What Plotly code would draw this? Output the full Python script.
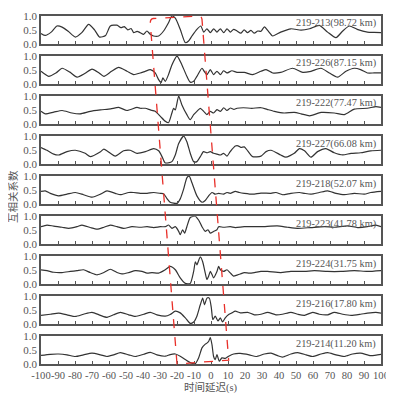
import plotly.graph_objects as go
from plotly.subplots import make_subplots

# === Station pair labels (top to bottom) ===
pair_labels = ["219-213(98.72 km)", "219-226(87.15 km)", "219-222(77.47 km)",
               "219-227(66.08 km)", "219-218(52.07 km)", "219-223(41.78 km)",
               "219-224(31.75 km)", "219-216(17.80 km)", "219-214(11.20 km)"]

x_tick_vals = list(range(-100, 101, 10))
x_tick_text = ["-100", "-90", "-80", "-70", "-60", "-50", "-40", "-30", "-20", "-10",
               "0", "10", "20", "30", "40", "50", "60", "70", "80", "90", "100"]

# === Cross-correlation curves (lag in s, coefficient) ===
lag_213 = [-100, -97.5, -94, -90.6, -87.6, -84, -79.8, -76, -72, -68.5, -65.5, -62, -59.2, -55.3,
           -53, -51, -49, -47, -45.5, -43.5, -41.6, -39.6, -37.7, -35.7, -33.8, -30.8, -27.9, -25,
           -23, -21, -18.1, -15.1, -13.2, -11.2, -8.3, -6, -4.3, -2.4, -0.4, 1.6, 3.5, 5.5, 7.5,
           9.4, 11.4, 13.3, 15.3, 17.5, 19.5, 21.5, 23.5, 25.5, 27.5, 29.4, 31.4, 33.8, 36.3, 41,
           47, 53, 58, 63.7, 68.6, 73.5, 77.5, 81.4, 86, 92, 96, 100]
cc_213 = [0.37, 0.30, 0.42, 0.64, 0.60, 0.45, 0.24, 0.40, 0.70, 0.50, 0.24, 0.30, 0.64, 0.67,
          0.58, 0.62, 0.50, 0.55, 0.40, 0.45, 0.40, 0.34, 0.46, 0.34, 0.28, 0.28, 0.46, 0.76,
          1.0, 0.92, 0.52, 0.04, 0.10, 0.28, 0.52, 0.64, 0.42, 0.54, 0.40, 0.54, 0.42, 0.54, 0.40,
          0.54, 0.42, 0.52, 0.46, 0.38, 0.50, 0.40, 0.48, 0.38, 0.46, 0.45, 0.61, 0.45, 0.28, 0.42,
          0.54, 0.49, 0.54, 0.66, 0.42, 0.22, 0.46, 0.64, 0.52, 0.42, 0.41, 0.40]

lag_226 = [-100, -95.5, -91, -87.6, -83, -78.8, -74, -70, -66, -63, -58.5, -54.3, -49.4, -45.5,
           -41.6, -38.7, -35.7, -32.8, -30.8, -29.4, -28.3, -26.9, -25, -23, -20, -17.1, -14.2,
           -12.2, -10.2, -8.3, -5.3, -4, -2.4, -0.4, 1.5, 3.5, 5.5, 7.4, 9.4, 12.3, 15.3, 19.6,
           24.5, 29.4, 32.4, 36.3, 41, 48, 54, 58.8, 64.7, 69.6, 74.5, 79.4, 84.3, 88, 92, 96, 100]
cc_226 = [0.45, 0.27, 0.40, 0.56, 0.42, 0.24, 0.38, 0.53, 0.40, 0.27, 0.45, 0.59, 0.45, 0.33,
          0.39, 0.45, 0.51, 0.39, 0.15, 0.04, 0.21, 0.09, 0.33, 0.68, 1.0, 0.68, 0.27,
          0.06, 0.09, 0.27, 0.56, 0.45, 0.33, 0.51, 0.33, 0.45, 0.33, 0.47, 0.39, 0.47, 0.41, 0.41,
          0.33, 0.45, 0.51, 0.39, 0.41, 0.56, 0.41, 0.45, 0.56, 0.39, 0.24, 0.45, 0.56, 0.51, 0.39,
          0.39, 0.39]

lag_222 = [-100, -97.5, -92.5, -87.6, -81.8, -77, -71, -65, -59, -54.3, -49.4, -43.5, -41.6,
           -38.7, -35.7, -32.8, -29.8, -26.9, -25, -23, -22, -21, -19, -17.1, -14.2, -12.2, -10.2,
           -8.3, -6.3, -4.3, -2.4, -0.4, 1.5, 3.5, 5.5, 7.5, 9.4, 11.4, 13.5, 15.3, 19, 24, 29.4,
           33, 37.3, 43, 49, 53, 58, 64.7, 72.5, 78.4, 84.3, 92, 97, 100]
cc_222 = [0.45, 0.36, 0.42, 0.48, 0.39, 0.36, 0.45, 0.50, 0.54, 0.59, 0.48, 0.59, 0.56,
          0.56, 0.50, 0.45, 0.27, 0.09, 0.04, 0.39, 0.56, 0.50, 1.0, 0.68, 0.33, 0.15, 0.33,
          0.45, 0.56, 0.45, 0.33, 0.45, 0.39, 0.51, 0.45, 0.58, 0.48, 0.57, 0.52, 0.56, 0.58, 0.56,
          0.58, 0.52, 0.45, 0.39, 0.41, 0.36, 0.29, 0.41, 0.39, 0.33, 0.53, 0.56, 0.62, 0.59]

lag_227 = [-100, -96.5, -92.5, -89.6, -84.7, -79.8, -74, -71, -65, -63, -59.2, -56.3, -51.4,
           -47.5, -43.5, -38.6, -33.7, -30.8, -28.8, -26.9, -23, -21, -19, -16.1, -14.2, -12.2,
           -10.2, -8.3, -6.3, -4.4, -2.4, -0.4, 1.5, 3.5, 5.5, 7.4, 9.4, 11.3, 14.3, 15.9, 17.6,
           19.6, 21.6, 24.5, 29.4, 32.4, 35.3, 41, 44, 49, 52, 55, 58.8, 62.7, 67.6, 72.5, 77.5,
           82.4, 88, 94, 100]
cc_227 = [0.59, 0.49, 0.35, 0.32, 0.44, 0.49, 0.38, 0.26, 0.44, 0.53, 0.38, 0.28, 0.47,
          0.49, 0.38, 0.44, 0.55, 0.47, 0.26, 0.03, 0.08, 0.32, 0.73, 1.0, 0.80, 0.38,
          0.08, 0.08, 0.26, 0.44, 0.40, 0.44, 0.38, 0.35, 0.32, 0.38, 0.28, 0.44, 0.64, 0.65, 0.59,
          0.61, 0.47, 0.26, 0.28, 0.44, 0.49, 0.32, 0.24, 0.38, 0.55, 0.47, 0.24, 0.44, 0.55, 0.40,
          0.32, 0.38, 0.40, 0.47, 0.49]

lag_218 = [-100, -97.5, -94.5, -89.6, -84.7, -79.8, -75, -70, -65, -61.2, -56.3, -53.3, -48.4,
           -45.5, -41.6, -37.6, -33.7, -29.8, -27.8, -26, -24, -20, -18.1, -16.1, -14.2, -12.8,
           -11.2, -8.3, -5.3, -3.4, -1.4, 0.6, 2.5, 4.5, 7.4, 9.4, 11.3, 14.3, 16.7, 19.6, 24.5,
           29.4, 35.3, 38.2, 42, 47, 52, 55, 58.8, 63.7, 68.6, 73.5, 78.4, 84.3, 90.2, 94, 100]
cc_218 = [0.45, 0.47, 0.38, 0.29, 0.35, 0.41, 0.33, 0.24, 0.35, 0.47, 0.38, 0.33, 0.41,
          0.41, 0.38, 0.38, 0.41, 0.38, 0.36, 0.20, 0.06, 0.02, 0.18, 0.53, 0.94, 1.0,
          0.76, 0.29, 0.06, 0.12, 0.29, 0.41, 0.35, 0.38, 0.35, 0.41, 0.38, 0.45, 0.41, 0.38, 0.35,
          0.39, 0.38, 0.41, 0.33, 0.38, 0.41, 0.38, 0.35, 0.41, 0.47, 0.38, 0.33, 0.38, 0.35, 0.41,
          0.45]

lag_223 = [-100, -96.5, -92.5, -87.6, -83.7, -78.8, -75.9, -71, -67, -63, -59.2, -55.3, -51.4,
           -46.5, -41.6, -37.6, -33.7, -29.8, -26.9, -25, -23, -21, -19, -18.1, -16.7, -15.5,
           -14.2, -12.2, -9.3, -7.3, -5.3, -3.4, -1.8, -0.4, 1.5, 3.5, 4.5, 7.4, 11.3, 14.3, 19.6,
           29.4, 39, 45, 51, 58.8, 66.7, 72.5, 80.4, 86.3, 92, 97, 100]
cc_223 = [0.62, 0.68, 0.64, 0.60, 0.56, 0.62, 0.68, 0.59, 0.53, 0.60, 0.68, 0.62, 0.56,
          0.62, 0.60, 0.62, 0.59, 0.62, 0.62, 0.68, 0.56, 0.62, 0.45, 0.33, 0.51, 0.39,
          0.62, 0.95, 1.0, 0.86, 0.62, 0.45, 0.51, 0.39, 0.45, 0.51, 0.62, 0.60, 0.62, 0.59, 0.62,
          0.62, 0.65, 0.60, 0.56, 0.59, 0.62, 0.60, 0.65, 0.59, 0.62, 0.68, 0.62]

lag_224 = [-100, -96.5, -92.5, -87.6, -82.7, -78.8, -75, -71, -67, -63, -59.2, -55.3, -52.4,
           -48.4, -44.5, -40.6, -37.6, -34.7, -30.8, -26.9, -24, -21, -18.1, -15.1, -12.2, -10.2,
           -9.2, -8.3, -6.3, -4.9, -3.4, -2.4, -1.4, -0.4, 0.6, 1.5, 3.5, 4.5, 5.5, 7.4, 9.4, 11.3,
           13.3, 15.3, 17.2, 19.6, 22.5, 25.5, 29.4, 33.3, 41, 47, 55, 60.8, 68.6, 76.5, 84.3,
           92, 100]
cc_224 = [0.51, 0.48, 0.42, 0.41, 0.45, 0.48, 0.51, 0.41, 0.33, 0.41, 0.53, 0.41, 0.36,
          0.41, 0.48, 0.45, 0.39, 0.41, 0.39, 0.51, 0.63, 0.51, 0.22, 0.02, 0.02, 0.45,
          0.80, 0.69, 0.98, 0.80, 0.40, 0.16, 0.28, 0.45, 0.34, 0.22, 0.45, 0.63, 0.51, 0.45, 0.51,
          0.40, 0.28, 0.32, 0.36, 0.41, 0.39, 0.41, 0.45, 0.45, 0.41, 0.45, 0.45, 0.48, 0.45, 0.45,
          0.48, 0.45, 0.48]

lag_216 = [-100, -94.5, -89.6, -84.7, -79.8, -75, -70, -65, -61.2, -57.3, -53.3, -48.4, -44.5,
           -39.6, -35.7, -31.8, -26.9, -24, -21, -18.1, -15.1, -12.2, -10.2, -8.3, -6.3, -4.9,
           -3.8, -2.4, -1, 0.2, 1.1, 2.5, 4.1, 5.5, 6.8, 8.4, 10.4, 12.3, 14.3, 17.2, 21.6, 25.5,
           29.4, 33.3, 38.2, 42, 47, 51, 55, 59.8, 63.7, 68.6, 72.5, 77.5, 82.4, 88, 92, 97, 100]
cc_216 = [0.31, 0.35, 0.39, 0.33, 0.27, 0.35, 0.42, 0.31, 0.24, 0.33, 0.42, 0.33, 0.27,
          0.35, 0.42, 0.33, 0.28, 0.34, 0.46, 0.40, 0.22, 0.02, 0.07, 0.28, 0.69, 0.93,
          0.69, 0.93, 0.93, 0.58, 0.16, 0.28, 0.11, 0.22, 0.07, 0.22, 0.34, 0.40, 0.46, 0.40, 0.42,
          0.33, 0.35, 0.42, 0.33, 0.35, 0.42, 0.35, 0.31, 0.42, 0.35, 0.33, 0.42, 0.35, 0.31, 0.35,
          0.39, 0.42, 0.39]

lag_214 = [-100, -94.5, -89.6, -84.7, -79.8, -75, -70, -65, -61.2, -57.3, -53.3, -48.4, -44.5,
           -39.6, -35.7, -31.8, -26.9, -24, -21, -18.1, -15.1, -12.2, -9.3, -7.3, -5.3, -3.8,
           -2.4, -1.4, -0.4, 0.6, 1.5, 2.5, 3.5, 4.9, 6.4, 8.4, 10.4, 13.3, 17.2, 22.5, 26.5, 31.4,
           35.3, 39.2, 42, 47, 51, 56, 59.8, 64.7, 68.6, 73.5, 78.4, 83.3, 88, 94, 100]
cc_214 = [0.31, 0.35, 0.36, 0.33, 0.27, 0.33, 0.39, 0.33, 0.27, 0.33, 0.41, 0.33, 0.27,
          0.35, 0.42, 0.33, 0.28, 0.34, 0.36, 0.28, 0.16, 0.05, 0.01, 0.22, 0.58, 0.69,
          0.75, 0.81, 0.95, 0.69, 0.28, 0.16, 0.34, 0.10, 0.22, 0.20, 0.28, 0.36, 0.38, 0.33, 0.27,
          0.36, 0.39, 0.30, 0.25, 0.36, 0.41, 0.33, 0.27, 0.36, 0.41, 0.33, 0.27, 0.36, 0.39,
          0.30, 0.35]

lags = [lag_213, lag_226, lag_222, lag_227, lag_218, lag_223, lag_224, lag_216, lag_214]
ccs = [cc_213, cc_226, cc_222, cc_227, cc_218, cc_223, cc_224, cc_216, cc_214]

# === Red dashed moveout outline: (lag s, panel index, coefficient within panel) ===
outline_lag = [-20.0, -35.7, -35.9, -34.0, -7.5, -5.6, -5.3, 10.4]
outline_panel = [8, 0, 0, 0, 0, 0, 0, 8]
outline_level = [0.0, 0.72, 0.90, 0.91, 1.0, 1.0, 0.88, 0.14]

serif = "Liberation Serif, Noto Sans CJK SC"
grey = "#555555"

n = len(ccs)
fig = make_subplots(rows=n, cols=1, shared_xaxes=True, vertical_spacing=0.0352)

for i in range(n):
    fig.add_trace(go.Scatter(
        x=lags[i], y=ccs[i], mode="lines",
        line=dict(color="#333333", width=1.2, shape="spline", smoothing=0.6),
        showlegend=False, hoverinfo="skip"), row=i + 1, col=1)
    fig.add_annotation(
        text=pair_labels[i], xref=f"x{i + 1 if i else ''} domain", yref=f"y{i + 1 if i else ''} domain",
        x=0.99, y=1.02, xanchor="right", yanchor="top", showarrow=False,
        font=dict(family=serif, size=10.3, color="#555555"))

fig.update_xaxes(range=[-100, 100], tickvals=x_tick_vals, ticktext=x_tick_text,
                 tickangle=0, ticks="inside", ticklen=3, tickcolor=grey, tickwidth=1,
                 showline=True, mirror=True, linecolor=grey, linewidth=1.6,
                 showgrid=False, zeroline=False,
                 tickfont=dict(family=serif, size=10.6, color=grey))
fig.update_yaxes(range=[0, 1], tickvals=[0, 0.5, 1], ticktext=["0.0", "0.5", "1.0"],
                 ticks="", showline=True, mirror=True, linecolor=grey, linewidth=1.6,
                 showgrid=False, zeroline=False,
                 tickfont=dict(family=serif, size=11, color=grey))


def panel_y(p, v):
    d = fig.layout[f"yaxis{p + 1 if p else ''}"].domain
    return d[0] + v * (d[1] - d[0])


pts = [(outline_lag[k], panel_y(outline_panel[k], outline_level[k])) for k in range(len(outline_lag))]
path = (f"M {pts[0][0]},{pts[0][1]} L {pts[1][0]},{pts[1][1]} "
        f"Q {pts[2][0]},{pts[2][1]} {pts[3][0]},{pts[3][1]} L {pts[4][0]},{pts[4][1]} "
        f"Q {pts[5][0]},{pts[5][1]} {pts[6][0]},{pts[6][1]} L {pts[7][0]},{pts[7][1]} Z")
fig.add_shape(type="path", path=path, xref="x", yref="paper",
              line=dict(color="#e8302a", width=1.3, dash="dash"))

fig.add_annotation(text="时间延迟(s)", xref="paper", yref="paper", x=0.5, y=-0.068,
                   xanchor="center", yanchor="middle", showarrow=False,
                   font=dict(family=serif, size=10.5, color=grey))
fig.add_annotation(text="互相关系数", xref="paper", yref="paper", x=-0.082, y=0.48,
                   textangle=-90, xanchor="center", yanchor="middle", showarrow=False,
                   font=dict(family=serif, size=10.5, color=grey))

# page body adds an 8 px offset, so margins are shifted to keep the plot area in place
fig.update_layout(width=394, height=399, margin=dict(l=33, r=21, t=2, b=43),
                  plot_bgcolor="white", paper_bgcolor="white")

fig.write_html("out.html")
